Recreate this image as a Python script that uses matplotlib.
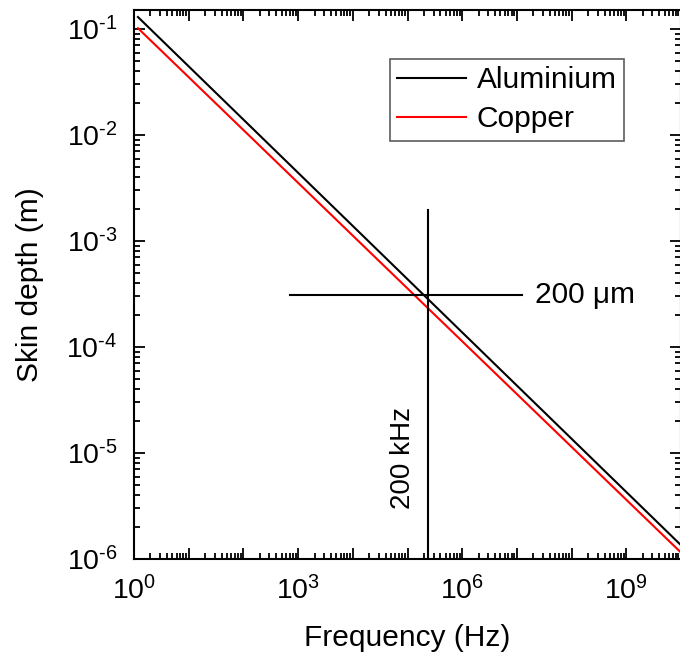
import matplotlib
matplotlib.use("Agg")
import matplotlib.pyplot as plt
from matplotlib.ticker import LogLocator, NullFormatter

plt.rcParams['font.family'] = ['Liberation Sans', 'DejaVu Sans']
plt.rcParams['mathtext.fontset'] = 'custom'
plt.rcParams['mathtext.rm'] = 'Liberation Sans'
plt.rcParams['mathtext.it'] = 'Liberation Sans:italic'
plt.rcParams['mathtext.default'] = 'regular'
plt.rcParams['axes.unicode_minus'] = False

# Data
frequency = [1.18, 1e10]            # Hz
aluminium = [0.13, 1.35e-6]         # m
copper = [0.102, 1.15e-6]           # m

marker_freq = 2.4e5                 # Hz (vertical guide)
marker_depth = 3.1e-4               # m  (horizontal guide)
vline_range = [1e-6, 1.96e-3]
hline_range = [710, 1.24e7]

xtick_vals = [1e0, 1e3, 1e6, 1e9]
xtick_labels = ['$10^{0}$', '$10^{3}$', '$10^{6}$', '$10^{9}$']
ytick_vals = [1e-6, 1e-5, 1e-4, 1e-3, 1e-2, 1e-1]
ytick_labels = [r'$10^{\text{-}6}$', r'$10^{\text{-}5}$', r'$10^{\text{-}4}$',
                r'$10^{\text{-}3}$', r'$10^{\text{-}2}$', r'$10^{\text{-}1}$']

fig = plt.figure(figsize=(6.8, 6.54), dpi=100)
ax = fig.add_axes([134/680, 1-559/654, 547/680, 549/654])

ax.plot(frequency, aluminium, color='black', lw=1.5, label='Aluminium')
ax.plot(frequency, copper, color='#ff0000', lw=1.5, label='Copper')

ax.plot([marker_freq, marker_freq], vline_range, color='black', lw=1.5)
ax.plot(hline_range, [marker_depth, marker_depth], color='black', lw=1.5)

ax.set_xscale('log')
ax.set_yscale('log')
ax.set_xlim(1, 1e10)
ax.set_ylim(1e-6, 10**-0.82)

# x ticks: major at every decade, labels every 3 decades
decades = [10.0**k for k in range(0, 11)]
ax.set_xticks(decades)
ax.set_xticklabels([xtick_labels[xtick_vals.index(d)] if d in xtick_vals else '' for d in decades])
ax.xaxis.set_minor_locator(LogLocator(base=10, subs=range(2, 10), numticks=100))
ax.xaxis.set_minor_formatter(NullFormatter())

ax.set_yticks(ytick_vals)
ax.set_yticklabels(ytick_labels)
ax.yaxis.set_minor_locator(LogLocator(base=10, subs=range(2, 10), numticks=100))
ax.yaxis.set_minor_formatter(NullFormatter())

ax.tick_params(which='both', direction='in', top=True, right=True, width=1.3)
ax.tick_params(which='major', length=8, labelsize=20.5)
ax.tick_params(axis='x', which='major', pad=12)
ax.tick_params(axis='y', which='major', pad=12)
ax.tick_params(which='minor', length=4.5)
for s in ax.spines.values():
    s.set_linewidth(1.5)

ax.set_xlabel('Frequency (Hz)', fontsize=21.5, labelpad=14)
ax.set_ylabel('Skin depth (m)', fontsize=21.5, labelpad=16)

ax.text(8.3e4, 9e-6, '200 kHz', rotation=90, fontsize=20, ha='center', va='center')
ax.text(2.1e7, marker_depth, '200 μm', fontsize=21.5, ha='left', va='center')

leg = ax.legend(loc='upper right', bbox_to_anchor=(624/680, 1-59/654),
                bbox_transform=fig.transFigure, fontsize=21.5, frameon=True,
                fancybox=False, edgecolor='#333333', handlelength=2.3,
                handletextpad=0.36, borderpad=0.25, labelspacing=0.36, borderaxespad=0)
leg.get_frame().set_linewidth(1.2)

fig.savefig('out.png', dpi=100)
